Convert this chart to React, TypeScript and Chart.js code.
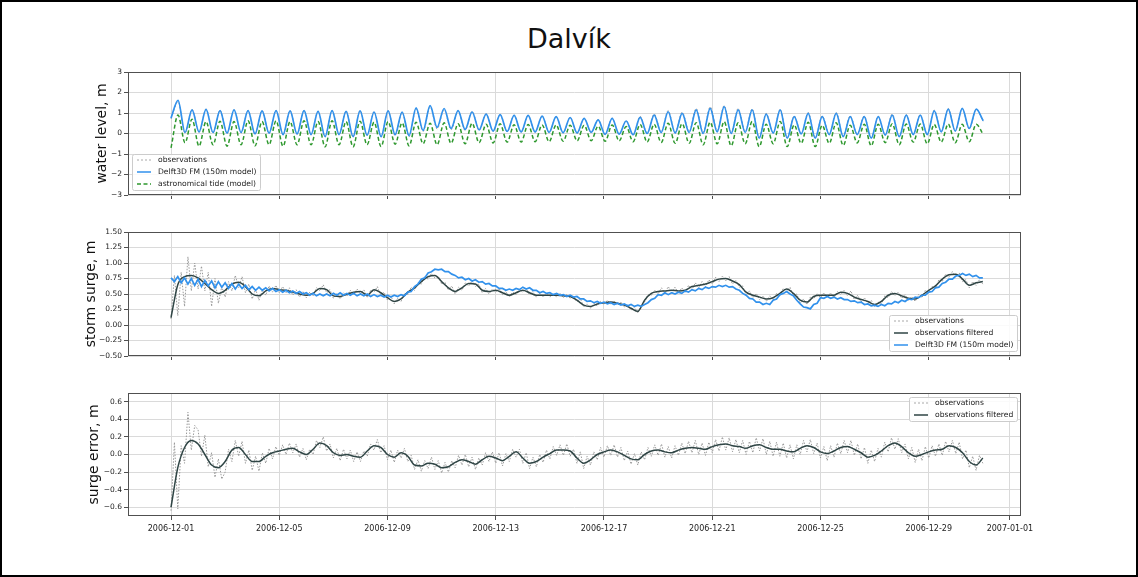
import React, { useEffect, useRef } from "react";
import { Chart, registerables } from "chart.js";

Chart.register(...registerables);

// ---------------- axis ticks ----------------
const dateTickDays = [0, 4, 8, 12, 16, 20, 24, 28, 31];
const dateTickLabels = [
  "2006-12-01", "2006-12-05", "2006-12-09", "2006-12-13", "2006-12-17",
  "2006-12-21", "2006-12-25", "2006-12-29", "2007-01-01",
];
const levelTicks = [-3, -2, -1, 0, 1, 2, 3];
const surgeTicks = [-0.5, -0.25, 0, 0.25, 0.5, 0.75, 1, 1.25, 1.5];
const errorTicks = [-0.6, -0.4, -0.2, 0, 0.2, 0.4, 0.6];

// ---------------- sampling (hours between samples, from 2006-12-01 00:00) ----------------
const tideStepHours = 6.21;
const surgeStepHours = 3;
const filteredStepHours = 6;

// ---------------- panel 1: water level (high/low water extremes) ----------------
const astroTide = [
  -0.70, 0.90, -0.45, 0.70, -0.62, 0.58, -0.55, 0.60,
  -0.62, 0.58, -0.55, 0.62, -0.60, 0.58, -0.55, 0.62,
  -0.62, 0.58, -0.55, 0.62, -0.55, 0.58, -0.65, 0.62,
  -0.55, 0.58, -0.65, 0.60, -0.55, 0.55, -0.64, 0.58,
  -0.52, 0.52, -0.60, 0.55, -0.50, 0.50, -0.55, 0.52,
  -0.48, 0.48, -0.50, 0.50, -0.45, 0.45, -0.46, 0.47,
  -0.42, 0.43, -0.42, 0.44, -0.40, 0.42, -0.40, 0.42,
  -0.38, 0.40, -0.36, 0.40, -0.35, 0.36, -0.38, 0.42,
  -0.36, 0.34, -0.40, 0.44, -0.42, 0.45, -0.44, 0.50,
  -0.48, 0.48, -0.48, 0.53, -0.55, 0.55, -0.50, 0.58,
  -0.60, 0.52, -0.50, 0.58, -0.64, 0.45, -0.50, 0.58,
  -0.64, 0.42, -0.48, 0.55, -0.64, 0.40, -0.48, 0.52,
  -0.58, 0.40, -0.46, 0.45, -0.60, 0.45, -0.45, 0.48,
  -0.55, 0.46, -0.42, 0.46, -0.50, 0.44, -0.42, 0.46,
  -0.45, 0.45, -0.40, 0.45, -0.05,
];
const modelLevel = [
  0.75, 1.62, 0.05, 1.15, 0.08, 1.18, 0.05, 1.12,
  0.02, 1.15, 0.05, 1.12, -0.02, 1.10, 0.02, 1.12,
  -0.05, 1.10, -0.02, 1.12, -0.05, 1.08, -0.15, 1.12,
  -0.05, 1.08, -0.15, 1.10, -0.08, 1.05, -0.15, 1.10,
  -0.05, 1.05, -0.10, 1.25, 0.15, 1.36, 0.30, 1.22,
  0.25, 1.12, 0.20, 1.05, 0.18, 0.95, 0.12, 0.92,
  0.10, 0.88, 0.08, 0.88, 0.08, 0.85, 0.06, 0.82,
  0.04, 0.78, 0.03, 0.74, 0.06, 0.66, -0.04, 0.74,
  -0.03, 0.61, -0.06, 0.79, 0.00, 0.90, 0.05, 1.06,
  0.02, 0.98, 0.05, 1.15, 0.00, 1.23, 0.08, 1.31,
  0.00, 1.15, 0.05, 1.15, -0.23, 0.95, 0.02, 1.15,
  -0.23, 0.82, -0.02, 0.98, -0.23, 0.82, -0.05, 0.98,
  -0.15, 0.82, -0.05, 0.82, -0.23, 0.82, -0.08, 0.90,
  -0.15, 0.90, -0.05, 0.90, -0.05, 1.10, 0.08, 1.19,
  0.12, 1.23, 0.25, 1.19, 0.62,
];
const obsLevel = [
  0.72, 1.55, 0.02, 1.18, 0.05, 1.20, 0.02, 1.14,
  0.00, 1.16, 0.03, 1.13, -0.04, 1.12, 0.00, 1.13,
  -0.07, 1.12, -0.04, 1.13, -0.07, 1.10, -0.17, 1.13,
  -0.07, 1.10, -0.17, 1.12, -0.10, 1.07, -0.17, 1.12,
  -0.10, 1.02, -0.16, 1.18, 0.10, 1.30, 0.22, 1.16,
  0.18, 1.10, 0.15, 1.08, 0.15, 0.96, 0.10, 0.93,
  0.08, 0.90, 0.06, 0.88, 0.06, 0.86, 0.04, 0.82,
  0.02, 0.78, 0.00, 0.74, 0.03, 0.68, -0.06, 0.75,
  -0.05, 0.63, -0.08, 0.84, 0.02, 0.95, 0.08, 1.12,
  0.06, 1.04, 0.10, 1.22, 0.06, 1.30, 0.14, 1.36,
  0.08, 1.22, 0.10, 1.20, -0.18, 0.98, 0.04, 1.18,
  -0.20, 0.86, 0.00, 1.02, -0.20, 0.86, -0.02, 1.02,
  -0.12, 0.86, -0.02, 0.86, -0.20, 0.84, -0.06, 0.95,
  -0.12, 0.92, -0.04, 0.92, -0.04, 1.14, 0.10, 1.22,
  0.12, 1.22, 0.22, 1.16, 0.60,
];

// ---------------- panel 2: storm surge ----------------
const obsSurge = [
  0.10, 0.80, 0.15, 0.85, 0.30, 1.10, 0.55, 1.00,
  0.58, 0.95, 0.55, 0.85, 0.30, 0.75, 0.35, 0.62,
  0.45, 0.70, 0.55, 0.80, 0.60, 0.78, 0.52, 0.66,
  0.42, 0.58, 0.40, 0.56, 0.48, 0.63, 0.53, 0.64,
  0.52, 0.62, 0.52, 0.60, 0.48, 0.57, 0.45, 0.54,
  0.44, 0.53, 0.47, 0.60, 0.55, 0.65, 0.52, 0.57,
  0.43, 0.51, 0.42, 0.52, 0.46, 0.56, 0.49, 0.58,
  0.50, 0.57, 0.44, 0.56, 0.53, 0.62, 0.48, 0.53,
  0.40, 0.47, 0.34, 0.43, 0.38, 0.51, 0.49, 0.61,
  0.56, 0.68, 0.66, 0.78, 0.74, 0.83, 0.76, 0.79,
  0.66, 0.69, 0.56, 0.63, 0.50, 0.61, 0.56, 0.68,
  0.63, 0.71, 0.62, 0.66, 0.52, 0.59, 0.50, 0.58,
  0.53, 0.59, 0.49, 0.54, 0.45, 0.53, 0.49, 0.57,
  0.53, 0.59, 0.49, 0.54, 0.45, 0.51, 0.45, 0.51,
  0.45, 0.51, 0.45, 0.51, 0.44, 0.50, 0.43, 0.46,
  0.37, 0.43, 0.29, 0.34, 0.27, 0.35, 0.31, 0.38,
  0.33, 0.40, 0.34, 0.39, 0.32, 0.37, 0.29, 0.33,
  0.24, 0.29, 0.19, 0.33, 0.37, 0.49, 0.48, 0.56,
  0.50, 0.60, 0.51, 0.62, 0.52, 0.61, 0.51, 0.60,
  0.52, 0.64, 0.57, 0.68, 0.60, 0.70, 0.62, 0.73,
  0.66, 0.77, 0.70, 0.79, 0.71, 0.78, 0.66, 0.72,
  0.61, 0.63, 0.48, 0.55, 0.44, 0.51, 0.41, 0.47,
  0.38, 0.47, 0.40, 0.51, 0.47, 0.59, 0.54, 0.61,
  0.47, 0.50, 0.35, 0.42, 0.33, 0.45, 0.42, 0.51,
  0.44, 0.52, 0.44, 0.52, 0.44, 0.54, 0.49, 0.56,
  0.47, 0.55, 0.41, 0.48, 0.37, 0.44, 0.34, 0.40,
  0.30, 0.37, 0.34, 0.47, 0.44, 0.54, 0.47, 0.53,
  0.43, 0.49, 0.39, 0.46, 0.38, 0.49, 0.44, 0.56,
  0.52, 0.62, 0.59, 0.73, 0.70, 0.82, 0.77, 0.86,
  0.78, 0.84, 0.70, 0.73, 0.60, 0.70, 0.64, 0.73,
  0.66,
];
const obsSurgeFiltered = [
  0.12, 0.65, 0.78, 0.80,
  0.76, 0.67, 0.57, 0.51,
  0.56, 0.66, 0.69, 0.62,
  0.50, 0.47, 0.55, 0.59,
  0.57, 0.56, 0.53, 0.50,
  0.48, 0.51, 0.59, 0.57,
  0.47, 0.46, 0.50, 0.53,
  0.54, 0.48, 0.57, 0.52,
  0.44, 0.38, 0.42, 0.53,
  0.60, 0.70, 0.78, 0.80,
  0.70, 0.60, 0.54, 0.60,
  0.67, 0.66, 0.56, 0.54,
  0.56, 0.52, 0.48, 0.52,
  0.56, 0.52, 0.48, 0.48,
  0.48, 0.48, 0.47, 0.46,
  0.40, 0.32, 0.30, 0.34,
  0.36, 0.37, 0.35, 0.32,
  0.27, 0.22, 0.40, 0.51,
  0.54, 0.55, 0.56, 0.55,
  0.56, 0.62, 0.64, 0.66,
  0.70, 0.74, 0.75, 0.71,
  0.65, 0.53, 0.48, 0.45,
  0.42, 0.44, 0.51, 0.58,
  0.51, 0.40, 0.37, 0.46,
  0.48, 0.48, 0.48, 0.53,
  0.51, 0.45, 0.41, 0.38,
  0.33, 0.38, 0.48, 0.51,
  0.47, 0.43, 0.42, 0.48,
  0.56, 0.63, 0.74, 0.81,
  0.82, 0.74, 0.64, 0.68,
  0.70,
];
const modelSurge = [
  0.76, 0.70, 0.78, 0.68, 0.76, 0.66, 0.75, 0.64,
  0.74, 0.62, 0.72, 0.63, 0.71, 0.60, 0.70, 0.61,
  0.68, 0.59, 0.67, 0.58, 0.66, 0.59, 0.64, 0.57,
  0.62, 0.56, 0.61, 0.56, 0.60, 0.55, 0.59, 0.54,
  0.57, 0.53, 0.56, 0.52, 0.55, 0.51, 0.54, 0.50,
  0.52, 0.48, 0.51, 0.47, 0.50, 0.47, 0.50, 0.47,
  0.51, 0.48, 0.52, 0.48, 0.51, 0.48, 0.51, 0.47,
  0.50, 0.47, 0.50, 0.46, 0.49, 0.46, 0.48, 0.45,
  0.48, 0.45, 0.48, 0.46, 0.49, 0.47, 0.53, 0.54,
  0.62, 0.66, 0.74, 0.76, 0.84, 0.86, 0.90, 0.89,
  0.90, 0.86, 0.86, 0.82, 0.80, 0.76, 0.77, 0.73,
  0.75, 0.71, 0.73, 0.69, 0.70, 0.66, 0.67, 0.63,
  0.63, 0.59, 0.59, 0.56, 0.58, 0.56, 0.59, 0.57,
  0.61, 0.58, 0.60, 0.56, 0.56, 0.52, 0.54, 0.51,
  0.52, 0.49, 0.51, 0.48, 0.49, 0.46, 0.48, 0.45,
  0.46, 0.42, 0.42, 0.38, 0.39, 0.36, 0.38, 0.35,
  0.37, 0.34, 0.36, 0.33, 0.35, 0.32, 0.34, 0.31,
  0.33, 0.30, 0.32, 0.30, 0.33, 0.36, 0.41, 0.43,
  0.49, 0.48, 0.52, 0.49, 0.52, 0.50, 0.53, 0.51,
  0.55, 0.53, 0.57, 0.55, 0.59, 0.57, 0.61, 0.59,
  0.62, 0.61, 0.64, 0.62, 0.64, 0.61, 0.62, 0.58,
  0.56, 0.51, 0.48, 0.43, 0.42, 0.37, 0.37, 0.33,
  0.35, 0.33, 0.40, 0.42, 0.49, 0.51, 0.54, 0.50,
  0.47, 0.40, 0.34, 0.29, 0.28, 0.26, 0.33, 0.35,
  0.44, 0.43, 0.46, 0.43, 0.45, 0.42, 0.44, 0.41,
  0.41, 0.38, 0.39, 0.36, 0.37, 0.33, 0.34, 0.31,
  0.32, 0.30, 0.33, 0.31, 0.35, 0.34, 0.38, 0.36,
  0.40, 0.38, 0.42, 0.41, 0.45, 0.44, 0.48, 0.48,
  0.53, 0.54, 0.60, 0.61, 0.67, 0.69, 0.74, 0.74,
  0.79, 0.80, 0.83, 0.80, 0.82, 0.78, 0.80, 0.76,
  0.76,
];

// ---------------- panel 3: surge error ----------------
const errorObs = [
  -0.64, 0.14, -0.62, 0.10, -0.10, 0.48, 0.05, 0.33,
  0.28, -0.02, 0.22, -0.14, 0.02, -0.26, -0.05, -0.28,
  -0.20, 0.06, -0.08, 0.16, -0.02, 0.15, -0.10, 0.05,
  -0.18, -0.02, -0.19, 0.02, -0.10, 0.07, -0.05, 0.09,
  -0.01, 0.11, 0.00, 0.13, 0.02, 0.12, -0.03, 0.07,
  -0.06, 0.06, 0.00, 0.16, 0.08, 0.20, 0.04, 0.12,
  -0.04, 0.07, -0.07, 0.06, -0.05, 0.05, -0.08, 0.03,
  -0.08, 0.04, -0.02, 0.12, 0.05, 0.17, 0.02, 0.10,
  -0.06, 0.05, -0.09, 0.05, -0.04, 0.07, -0.08, -0.01,
  -0.17, -0.06, -0.19, -0.07, -0.16, -0.03, -0.17, -0.07,
  -0.21, -0.09, -0.20, -0.07, -0.15, -0.01, -0.12, 0.00,
  -0.14, -0.03, -0.17, -0.04, -0.12, 0.02, -0.08, 0.03,
  -0.10, 0.02, -0.13, 0.01, -0.08, 0.06, -0.03, 0.06,
  -0.10, 0.02, -0.16, -0.03, -0.14, 0.00, -0.09, 0.05,
  -0.05, 0.09, -0.01, 0.11, -0.01, 0.12, -0.02, 0.06,
  -0.10, 0.03, -0.16, -0.02, -0.12, 0.03, -0.06, 0.08,
  -0.03, 0.10, -0.01, 0.11, -0.03, 0.08, -0.07, 0.04,
  -0.11, 0.01, -0.12, 0.03, -0.06, 0.08, -0.02, 0.11,
  -0.01, 0.12, -0.03, 0.09, -0.04, 0.10, -0.01, 0.13,
  0.01, 0.15, 0.02, 0.16, 0.00, 0.13, -0.01, 0.14,
  0.02, 0.17, 0.04, 0.20, 0.05, 0.19, 0.03, 0.17,
  0.02, 0.16, 0.00, 0.15, 0.02, 0.19, 0.04, 0.18,
  0.00, 0.15, -0.02, 0.14, -0.02, 0.13, -0.04, 0.11,
  -0.05, 0.11, 0.00, 0.16, 0.03, 0.17, 0.01, 0.13,
  -0.04, 0.09, -0.07, 0.10, -0.03, 0.13, 0.01, 0.16,
  0.02, 0.16, -0.01, 0.12, -0.05, 0.08, -0.10, 0.05,
  -0.08, 0.07, -0.03, 0.14, 0.03, 0.19, 0.06, 0.18,
  0.02, 0.12, -0.05, 0.08, -0.09, 0.06, -0.07, 0.09,
  -0.04, 0.10, -0.02, 0.12, -0.01, 0.15, 0.03, 0.16,
  0.01, 0.14, -0.05, 0.05, -0.15, -0.02, -0.18, -0.01,
  -0.10,
];
const errorFiltered = [
  -0.60, -0.15, 0.08, 0.16,
  0.12, 0.00, -0.12, -0.15,
  -0.08, 0.05, 0.08, 0.00,
  -0.08, -0.08, -0.02, 0.02,
  0.04, 0.06, 0.07, 0.03,
  0.00, 0.06, 0.13, 0.10,
  0.02, -0.01, 0.00, -0.02,
  -0.03, 0.04, 0.10, 0.08,
  0.00, -0.03, 0.02, -0.02,
  -0.12, -0.13, -0.10, -0.11,
  -0.15, -0.14, -0.09, -0.06,
  -0.08, -0.11, -0.06, -0.02,
  -0.04, -0.07, -0.02, 0.03,
  -0.04, -0.10, -0.08, -0.03,
  0.01, 0.05, 0.05, 0.04,
  -0.04, -0.10, -0.06, 0.00,
  0.03, 0.05, 0.03, -0.01,
  -0.05, -0.06, 0.00, 0.04,
  0.05, 0.03, 0.02, 0.05,
  0.07, 0.08, 0.07, 0.06,
  0.09, 0.11, 0.12, 0.10,
  0.09, 0.07, 0.10, 0.11,
  0.08, 0.06, 0.06, 0.04,
  0.03, 0.07, 0.10, 0.08,
  0.03, 0.01, 0.04, 0.08,
  0.09, 0.06, 0.02, -0.03,
  -0.01, 0.04, 0.10, 0.13,
  0.09, 0.02, -0.02, 0.00,
  0.03, 0.05, 0.06, 0.10,
  0.08, 0.02, -0.08, -0.12,
  -0.04,
];

// ---------------- styling ----------------
const FONT = "'DejaVu Sans', 'Liberation Sans', sans-serif";
const BLUE = "#3191ec";
const GREEN = "#2e982e";
const OBS_GRAY = "#999999";
const FILT = "#2f4545";
const GRID = "#dadada";
const FRAME = "#505050";
const AREA_LEFT = 128;

Chart.defaults.font.family = FONT;

const series = (values: number[], stepHours: number) =>
  values.map((y, i) => ({ x: (i * stepHours) / 24, y }));

const fmt = (v: number, d: number) =>
  (v < -1e-9 ? "\u2212" : "") + Math.abs(v).toFixed(d);

type LegendItem = { label: string; color: string; width: number; dash: number[] };

function decorPlugin(items: LegendItem[], loc: string) {
  return {
    id: "panelDecor",
    afterDraw(chart: any) {
      const { ctx, chartArea: a } = chart;
      ctx.save();
      ctx.setLineDash([]);
      ctx.strokeStyle = FRAME;
      ctx.lineWidth = 1;
      ctx.strokeRect(
        Math.round(a.left) + 0.5,
        Math.round(a.top) + 0.5,
        Math.round(a.right - a.left) - 1,
        Math.round(a.bottom - a.top) - 1
      );
      ctx.font = `7.6px ${FONT}`;
      const textW = Math.max(...items.map((it) => ctx.measureText(it.label).width));
      const w = Math.round(5 + 14 + 7 + textW + 4);
      const h = items.length * 12;
      const x = Math.round(loc.endsWith("left") ? a.left + 4 : a.right - 4 - w);
      const y = Math.round(loc.startsWith("upper") ? a.top + 4 : a.bottom - 5 - h);
      ctx.beginPath();
      if (ctx.roundRect) ctx.roundRect(x + 0.5, y + 0.5, w, h, 2);
      else ctx.rect(x + 0.5, y + 0.5, w, h);
      ctx.fillStyle = "rgba(255,255,255,0.85)";
      ctx.fill();
      ctx.strokeStyle = "#cccccc";
      ctx.stroke();
      items.forEach((it, i) => {
        const cy = y + 6 + i * 12;
        ctx.beginPath();
        ctx.setLineDash(it.dash);
        ctx.strokeStyle = it.color;
        ctx.lineWidth = it.width;
        ctx.moveTo(x + 5, cy);
        ctx.lineTo(x + 19, cy);
        ctx.stroke();
        ctx.setLineDash([]);
        ctx.fillStyle = "#222";
        ctx.textBaseline = "middle";
        ctx.textAlign = "left";
        ctx.fillText(it.label, x + 26, cy);
      });
      ctx.restore();
    },
  };
}

type PanelOpts = {
  yMin: number;
  yMax: number;
  yTicks: number[];
  yDecimals: number;
  yTitle: string;
  titleCenterX: number;
  showXLabels: boolean;
  xAxisHeight: number;
};

function panelOptions(p: PanelOpts) {
  const grid = { color: GRID, lineWidth: 1, tickColor: FRAME, tickLength: 4, drawTicks: true };
  const titleSize = 14;
  const padLeft = Math.round(p.titleCenterX - (titleSize * 1.2) / 2);
  return {
    animation: false,
    responsive: false,
    maintainAspectRatio: false,
    events: [],
    parsing: false,
    layout: { padding: { left: padLeft, right: 117, top: 10, bottom: 0 } },
    plugins: { legend: { display: false }, tooltip: { enabled: false }, title: { display: false } },
    elements: { point: { radius: 0 } },
    scales: {
      x: {
        type: "linear",
        min: -1.59,
        max: 31.41,
        afterBuildTicks: (s: any) => {
          s.ticks = dateTickDays.map((v) => ({ value: v }));
        },
        afterFit: (s: any) => {
          s.height = p.xAxisHeight;
        },
        ticks: {
          display: p.showXLabels,
          autoSkip: false,
          maxRotation: 0,
          minRotation: 0,
          padding: 4,
          color: "#222",
          font: { family: FONT, size: 8 },
          callback: (v: number) => {
            const i = dateTickDays.indexOf(v);
            return i >= 0 ? dateTickLabels[i] : "";
          },
        },
        grid,
        border: { display: false },
      },
      y: {
        type: "linear",
        min: p.yMin,
        max: p.yMax,
        afterBuildTicks: (s: any) => {
          s.ticks = p.yTicks.map((v) => ({ value: v }));
        },
        afterFit: (s: any) => {
          s.width = AREA_LEFT - padLeft;
        },
        ticks: {
          padding: 2,
          color: "#222",
          font: { family: FONT, size: 7.5 },
          callback: (v: number) => fmt(v, p.yDecimals),
        },
        grid,
        border: { display: false },
        title: {
          display: true,
          text: p.yTitle,
          color: "#111",
          font: { family: FONT, size: titleSize },
          padding: { top: 0, bottom: 0 },
        },
      },
    },
  };
}

function levelConfig() {
  return {
    type: "line",
    data: {
      datasets: [
        { label: "astronomical tide (model)", data: series(astroTide, tideStepHours), borderColor: GREEN, borderWidth: 1.5, borderDash: [4, 2.5], cubicInterpolationMode: "monotone", order: 0 },
        { label: "Delft3D FM (150m model)", data: series(modelLevel, tideStepHours), borderColor: BLUE, borderWidth: 1.7, cubicInterpolationMode: "monotone", order: 1 },
        { label: "observations", data: series(obsLevel, tideStepHours), borderColor: OBS_GRAY, borderWidth: 1, borderDash: [2, 2], cubicInterpolationMode: "monotone", order: 2 },
      ],
    },
    options: panelOptions({ yMin: -3, yMax: 3, yTicks: levelTicks, yDecimals: 0, yTitle: "water level, m", titleCenterX: 102, showXLabels: false, xAxisHeight: 15 }),
    plugins: [
      decorPlugin(
        [
          { label: "observations", color: "#a8a8a8", width: 1, dash: [2, 2] },
          { label: "Delft3D FM (150m model)", color: BLUE, width: 1.5, dash: [] },
          { label: "astronomical tide (model)", color: GREEN, width: 1.5, dash: [4, 2.5] },
        ],
        "lower left"
      ),
    ],
  };
}

function surgeConfig() {
  return {
    type: "line",
    data: {
      datasets: [
        { label: "Delft3D FM (150m model)", data: series(modelSurge, surgeStepHours), borderColor: BLUE, borderWidth: 1.7, tension: 0, order: 0 },
        { label: "observations filtered", data: series(obsSurgeFiltered, filteredStepHours), borderColor: FILT, borderWidth: 1.5, cubicInterpolationMode: "monotone", order: 1 },
        { label: "observations", data: series(obsSurge, surgeStepHours), borderColor: OBS_GRAY, borderWidth: 1, borderDash: [1.5, 1.5], tension: 0, order: 2 },
      ],
    },
    options: panelOptions({ yMin: -0.5, yMax: 1.5, yTicks: surgeTicks, yDecimals: 2, yTitle: "storm surge, m", titleCenterX: 91, showXLabels: false, xAxisHeight: 14 }),
    plugins: [
      decorPlugin(
        [
          { label: "observations", color: "#a8a8a8", width: 1, dash: [2, 2] },
          { label: "observations filtered", color: FILT, width: 1.5, dash: [] },
          { label: "Delft3D FM (150m model)", color: BLUE, width: 1.5, dash: [] },
        ],
        "lower right"
      ),
    ],
  };
}

function errorConfig() {
  return {
    type: "line",
    data: {
      datasets: [
        { label: "observations filtered", data: series(errorFiltered, filteredStepHours), borderColor: FILT, borderWidth: 1.5, cubicInterpolationMode: "monotone", order: 0 },
        { label: "observations", data: series(errorObs, surgeStepHours), borderColor: OBS_GRAY, borderWidth: 1, borderDash: [1.5, 1.5], tension: 0, order: 1 },
      ],
    },
    options: panelOptions({ yMin: -0.7, yMax: 0.7, yTicks: errorTicks, yDecimals: 1, yTitle: "surge error, m", titleCenterX: 94, showXLabels: true, xAxisHeight: 27 }),
    plugins: [
      decorPlugin(
        [
          { label: "observations", color: "#a8a8a8", width: 1, dash: [2, 2] },
          { label: "observations filtered", color: FILT, width: 1.5, dash: [] },
        ],
        "upper right"
      ),
    ],
  };
}

function ChartPanel({ top, height, makeConfig }: { top: number; height: number; makeConfig: () => any }) {
  const ref = useRef<HTMLCanvasElement | null>(null);
  useEffect(() => {
    if (!ref.current) return;
    const chart = new Chart(ref.current, makeConfig());
    return () => chart.destroy();
  }, []);
  return (
    <canvas
      ref={ref}
      width={1138}
      height={height}
      style={{ position: "absolute", left: 0, top, width: 1138, height, display: "block" }}
    />
  );
}

export default function App() {
  return (
    <div style={{ position: "fixed", left: 0, top: 0, width: 1138, height: 577, background: "#fff", overflow: "hidden" }}>
      <div
        style={{
          position: "absolute",
          left: 0,
          top: 22,
          width: 1138,
          textAlign: "center",
          fontFamily: FONT,
          fontSize: 27,
          lineHeight: "34px",
          color: "#111",
        }}
      >
        Dalvík
      </div>
      <ChartPanel top={62} height={148} makeConfig={levelConfig} />
      <ChartPanel top={222} height={148} makeConfig={surgeConfig} />
      <ChartPanel top={383} height={160} makeConfig={errorConfig} />
      <div
        style={{
          position: "absolute",
          left: 0,
          top: 0,
          width: 1138,
          height: 577,
          boxSizing: "border-box",
          border: "2px solid #000",
          pointerEvents: "none",
        }}
      />
    </div>
  );
}
